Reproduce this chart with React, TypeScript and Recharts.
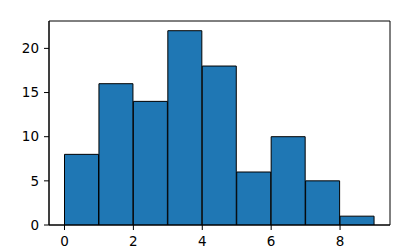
import React from "react";
import { BarChart, Bar, XAxis, YAxis, ReferenceArea } from "recharts";

const binCenters = [0.5, 1.5, 2.5, 3.5, 4.5, 5.5, 6.5, 7.5, 8.5];
const counts = [8, 16, 14, 22, 18, 6, 10, 5, 1];
const xTicks = [0, 2, 4, 6, 8];
const yTicks = [0, 5, 10, 15, 20];
const xDomain: [number, number] = [-0.45, 9.45];
const yDomain: [number, number] = [0, 23.1];

const data = binCenters.map((x, i) => ({ x, count: counts[i] }));

const W = 418;
const H = 252;
const margin = { top: 21, right: 28, left: 0, bottom: 0 };
const Y_W = 49;
const X_H = 27;

const font = { fontFamily: "DejaVu Sans", fontSize: 13.5, fill: "#000" };

export default function App() {
  return (
    <div style={{ position: "absolute", left: 0, top: 0, background: "#fff" }}>
      <BarChart width={W} height={H} data={data} margin={margin} barCategoryGap={0} barGap={0}>
        <XAxis
          dataKey="x"
          type="number"
          domain={xDomain}
          ticks={xTicks}
          allowDataOverflow
          height={X_H}
          stroke="#000"
          tickSize={5}
          tickMargin={6.5}
          tick={font}
        />
        <YAxis
          type="number"
          domain={yDomain}
          ticks={yTicks}
          allowDataOverflow
          width={Y_W}
          stroke="#000"
          tickSize={5}
          tickMargin={5}
          tick={font}
        />
        <Bar
          dataKey="count"
          fill="#1f77b4"
          stroke="#000"
          strokeWidth={1}
          isAnimationActive={false}
        />
        <ReferenceArea
          x1={xDomain[0]}
          x2={xDomain[1]}
          y1={yDomain[0]}
          y2={yDomain[1]}
          fill="none"
          fillOpacity={0}
          stroke="#000"
          strokeWidth={1}
          ifOverflow="visible"
        />
      </BarChart>
    </div>
  );
}
